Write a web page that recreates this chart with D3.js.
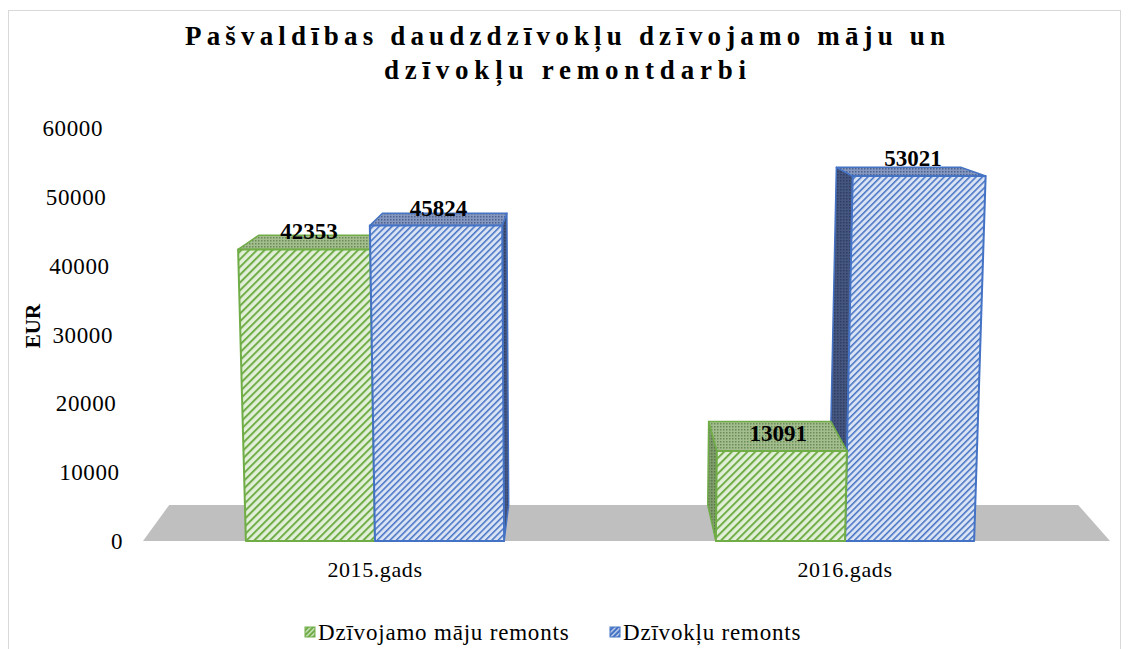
<!DOCTYPE html>
<html>
  <head>
    <script src="https://d3js.org/d3.v7.min.js" charset="utf-8"></script>
    <meta charset="UTF-8">
    <title>remontdarbi</title>
    <style>
      body { margin: 0; background: #fff; }
    </style>
  </head>
  <body>
    <svg class="chart"></svg>
    <script type="text/javascript">

     var years = ["2015.gads", "2016.gads"];
     var seriesNames = ["Dzīvojamo māju remonts", "Dzīvokļu remonts"];
     var houseRepairs = [42353, 13091];
     var flatRepairs = [45824, 53021];
     var yTicks = [0, 10000, 20000, 30000, 40000, 50000, 60000];
     var titleLines = ["Pašvaldības daudzdzīvokļu dzīvojamo māju un", "dzīvokļu remontdarbi"];

     var width = 1130,
         height = 649,
         base = 541,
         vpX = 580,   // vanishing point used for the 3d look
         vpY = 60,
         fx = 0.06,
         fy = 0.075,
         persp = 0.00008,
         font = "Liberation Serif";

     var colors = [
         {line: "#70ad47", bg: "#e2f0d9", top: "#a3bd8f", topLine: "#6a8c55", side: "#7f9c6b"},
         {line: "#4472c4", bg: "#dae3f3", top: "#8497bf", topLine: "#4c6293", side: "#44557f"}
     ];

     var chart = d3.select(".chart")
                   .attr("width", width)
                   .attr("height", height);

     // chart frame
     chart.append("rect")
          .attr("x", 8.5).attr("y", 10.5)
          .attr("width", 1112).attr("height", 680)
          .attr("fill", "none").attr("stroke", "#d9d9d9");

     var defs = chart.append("defs");

     function stripes(id, bg, fg, size, w) {
         var p = defs.append("pattern")
                     .attr("id", id)
                     .attr("patternUnits", "userSpaceOnUse")
                     .attr("width", size).attr("height", size)
                     .attr("patternTransform", "rotate(45)");
         p.append("rect").attr("width", size).attr("height", size).attr("fill", bg);
         p.append("rect").attr("width", w).attr("height", size).attr("fill", fg);
     }
     function hatch(id, bg, fg) {
         var p = defs.append("pattern")
                     .attr("id", id)
                     .attr("patternUnits", "userSpaceOnUse")
                     .attr("width", 3).attr("height", 3);
         p.append("rect").attr("width", 3).attr("height", 3).attr("fill", bg);
         p.append("rect").attr("width", 1.5).attr("height", 1.5).attr("fill", fg);
     }
     stripes("front0", colors[0].bg, colors[0].line, 5.5, 2);
     stripes("front1", colors[1].bg, colors[1].line, 4.5, 1.5);
     hatch("top0", colors[0].top, colors[0].topLine);
     hatch("top1", colors[1].top, colors[1].topLine);
     hatch("side0", colors[0].side, "#5a7548");
     hatch("side1", colors[1].side, "#2f3d60");
     stripes("legend0", colors[0].line, "#e2f0d9", 3.5, 1.2);
     stripes("legend1", colors[1].line, "#dae3f3", 3.5, 1.2);

     var x0 = d3.scaleBand().domain(years).range([140, 1080]);
     var x1 = d3.scaleBand().domain(seriesNames).range([0, x0.bandwidth()]).paddingOuter(0.82);
     var yScale = d3.scaleLinear().domain([0, 60000]).range([base, 128]);
     var labelX = d3.scaleLinear().domain([0, 60000]).range([123, 103]);

     // X: x at the floor front, H: px above floor, Z: depth 0..1
     function proj(X, H, Z) {
         var x = vpX + (X - vpX) * (1 + persp * H);
         var y = base - H;
         return [x + fx * Z * (vpX - x), y + fy * Z * (vpY - y)];
     }
     function poly(pts) { return pts.map(function(p) { return p.join(","); }).join(" "); }

     // floor
     var floorX = [143, 1110];
     chart.append("polygon")
          .attr("points", poly([proj(floorX[0], 0, 0), proj(floorX[1], 0, 0),
                                proj(floorX[1], 0, 1), proj(floorX[0], 0, 1)]))
          .attr("fill", "#bfbfbf");

     var bars = [];
     years.forEach(function(yr, i) {
         [houseRepairs[i], flatRepairs[i]].forEach(function(v, s) {
             var xa = x0(yr) + x1(seriesNames[s]);
             bars.push({year: yr, s: s, value: v, xa: xa, xb: xa + x1.bandwidth(),
                        h: base - yScale(v)});
         });
     });
     // paint bars far from the vanishing point first
     bars.sort(function(a, b) {
         return Math.abs((b.xa + b.xb) / 2 - vpX) - Math.abs((a.xa + a.xb) / 2 - vpX);
     });

     var barG = chart.append("g").attr("class", "bars");
     bars.forEach(function(d) {
         var g = barG.append("g");
         var c = colors[d.s];
         var sideX = d.xb < vpX ? d.xb : d.xa;
         g.append("polygon")
          .attr("points", poly([proj(sideX, 0, 0), proj(sideX, d.h, 0), proj(sideX, d.h, 1), proj(sideX, 0, 1)]))
          .attr("fill", "url(#side" + d.s + ")")
          .attr("stroke", c.line).attr("stroke-width", 1.5).attr("stroke-linejoin", "round");
         g.append("polygon")
          .attr("points", poly([proj(d.xa, d.h, 0), proj(d.xb, d.h, 0), proj(d.xb, d.h, 1), proj(d.xa, d.h, 1)]))
          .attr("fill", "url(#top" + d.s + ")")
          .attr("stroke", c.line).attr("stroke-width", 1.5).attr("stroke-linejoin", "round");
         g.append("polygon")
          .attr("points", poly([proj(d.xa, 0, 0), proj(d.xb, 0, 0), proj(d.xb, d.h, 0), proj(d.xa, d.h, 0)]))
          .attr("fill", "url(#front" + d.s + ")")
          .attr("stroke", c.line).attr("stroke-width", 2).attr("stroke-linejoin", "round");
     });

     // value labels
     chart.append("g").selectAll("text")
          .data(bars)
          .enter().append("text")
          .attr("font-family", font)
          .attr("x", function(d) { return proj((d.xa + d.xb) / 2, d.h, 0.3)[0]; })
          .attr("y", function(d) { return proj((d.xa + d.xb) / 2, d.h, 0)[1] - 10; })
          .attr("text-anchor", "middle")
          .attr("font-size", 23).attr("font-weight", "bold")
          .text(function(d) { return d.value; });

     // y tick labels
     chart.append("g").selectAll("text")
          .data(yTicks)
          .enter().append("text")
          .attr("font-family", font)
          .attr("x", function(d) { return labelX(d); })
          .attr("y", function(d) { return yScale(d); })
          .attr("dy", "0.35em")
          .attr("text-anchor", "end")
          .attr("font-size", 23).attr("letter-spacing", 0.6)
          .text(function(d) { return d; });

     chart.append("text")
          .attr("font-family", font)
          .attr("transform", "translate(40,326) rotate(-90)")
          .attr("text-anchor", "middle")
          .attr("font-size", 21).attr("font-weight", "bold")
          .text("EUR");

     // category labels
     chart.append("g").selectAll("text")
          .data(years)
          .enter().append("text")
          .attr("font-family", font)
          .attr("x", function(d) { return x0(d) + x0.bandwidth() / 2; })
          .attr("y", 577)
          .attr("text-anchor", "middle")
          .attr("font-size", 22).attr("letter-spacing", 0.6)
          .text(function(d) { return d; });

     // title
     var titleW = [760, 362];
     chart.append("g").selectAll("text")
          .data(titleLines)
          .enter().append("text")
          .attr("font-family", font)
          .attr("x", function(d, i) { return 565 - titleW[i] / 2; })
          .attr("y", function(d, i) { return 45 + i * 34; })
          .attr("textLength", function(d, i) { return titleW[i]; })
          .attr("lengthAdjust", "spacing")
          .attr("font-size", 27).attr("font-weight", "bold")
          .text(function(d) { return d; });

     // legend
     var legendX = [305, 610];
     var legend = chart.append("g").selectAll("g")
          .data(seriesNames)
          .enter().append("g")
          .attr("transform", function(d, i) { return "translate(" + legendX[i] + ",627)"; });
     legend.append("rect")
           .attr("width", 10).attr("height", 10)
           .attr("fill", function(d, i) { return "url(#legend" + i + ")"; })
           .attr("stroke", function(d, i) { return colors[i].line; });
     legend.append("text")
           .attr("font-family", font)
           .attr("x", 13).attr("y", 13)
           .attr("font-size", 23).attr("letter-spacing", 0.8)
           .text(function(d) { return d; });

    </script>
  </body>
</html>
